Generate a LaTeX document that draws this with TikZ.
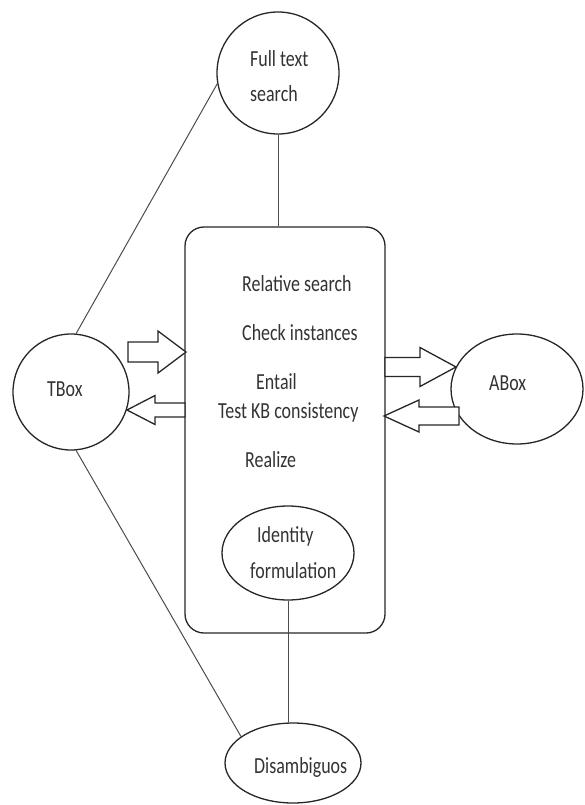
\documentclass[tikz,border=0pt]{standalone}
\usepackage{fontspec}
\setmainfont{Carlito}[FakeStretch=0.78]
\usetikzlibrary{shapes.geometric,calc}
\newcommand{\blkarrow}[6]{% tailx tipx y shafthw headhw headbasex
  \draw[barrow] (#1,#3-#4) -- (#6,#3-#4) -- (#6,#3-#5) -- (#2,#3) -- (#6,#3+#5) -- (#6,#3+#4) -- (#1,#3+#4) -- cycle;}
\begin{document}
\begin{tikzpicture}[x=1pt,y=-1pt,
  shp/.style={draw=black!85,line width=1.3pt,inner sep=0pt},
  conn/.style={draw=black!70,line width=1pt},
  lbl/.style={inner sep=0pt,anchor=base west,text=black!80,font=\fontsize{23}{27}\selectfont},
  barrow/.style={draw=black!85,line width=1.3pt,fill=white,line join=miter}]
\useasboundingbox (0,0) rectangle (584,805);
% shapes
\node[shp,circle,minimum size=122pt] (fts) at (278,73) {};
\node[shp,rectangle,rounded corners=19pt,minimum width=200pt,minimum height=406pt] (core) at (285,430) {};
\node[shp,circle,minimum size=116pt] (tbox) at (71,392) {};
\node[shp,ellipse,minimum width=132pt,minimum height=110pt] (abox) at (517,389) {};
\node[shp,ellipse,minimum width=132pt,minimum height=94pt] (idf) at (288,553) {};
\node[shp,ellipse,minimum width=136pt,minimum height=80pt] (dis) at (293,763) {};
% texts
\node[lbl] (tfts1) at (250,67) {Full text};
\node[lbl] (tfts2) at (250,102) {search};
\node[lbl] (ttbox) at (47,396) {TBox};
\node[lbl] (tabox) at (489,390) {ABox};
\node[lbl] (tc1) at (242,291) {Relative search};
\node[lbl] (tc2) at (242,340) {Check instances};
\node[lbl] (tc3) at (256,389) {Entail};
\node[lbl] (tc4) at (218,418) {Test KB consistency};
\node[lbl] (tc5) at (245,467) {Realize};
\node[lbl] (tidf1) at (257,542) {Identity};
\node[lbl] (tidf2) at (250,578) {formulation};
\node[lbl] (tdis) at (254,773) {Disambiguos};
% connectors
\draw[conn] (tbox.85) -- (fts.190);
\draw[conn] (tbox.275) -- (dis.153);
\draw[conn] (fts.south) -- (fts.south |- core.north);
\draw[conn] (idf.south) -- (idf.south |- dis.north);
% block arrows
\blkarrow{128}{186}{352}{10}{21}{158}
\blkarrow{185}{127}{410}{7}{14.5}{155}
\blkarrow{385}{456}{367}{9.5}{19.5}{420}
\blkarrow{459}{384}{416}{9}{16}{419}
\end{tikzpicture}
\end{document}
